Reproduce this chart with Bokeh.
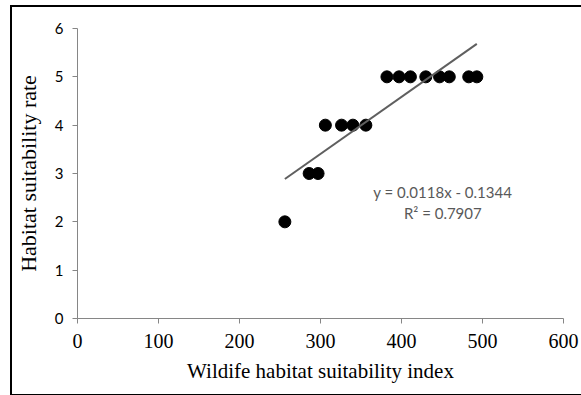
from bokeh.plotting import figure
from bokeh.models import ColumnDataSource, Range1d, FixedTicker, Label
from bokeh.embed import file_html
from bokeh.resources import INLINE

# Data
wildlife_index = [256, 286, 297, 306, 326, 340, 356, 382, 397, 411, 430, 447, 459, 483, 493]
suitability_rate = [2, 3, 3, 4, 4, 4, 4, 5, 5, 5, 5, 5, 5, 5, 5]
slope = 0.0118
intercept = -0.1344
r_squared = 0.7907
x_ticks = [0, 100, 200, 300, 400, 500, 600]
y_ticks = [0, 1, 2, 3, 4, 5, 6]

p = figure(width=569, height=387, output_backend="svg", toolbar_location=None,
           x_range=Range1d(0, 600), y_range=Range1d(0, 6),
           min_border_left=65, min_border_right=18, min_border_top=21, min_border_bottom=76)
p.margin = (7, 0, 0, 12)
p.styles = {"outline": "2px solid #000000", "outline-offset": "0px"}
p.outline_line_color = None
p.xgrid.visible = False
p.ygrid.visible = False
p.background_fill_color = "white"
p.border_fill_color = "white"

src = ColumnDataSource(dict(x=wildlife_index, y=suitability_rate))
p.scatter("x", "y", source=src, size=12, fill_color="black", line_color="black")

x0, x1 = min(wildlife_index), max(wildlife_index)
p.line([x0, x1], [slope * x0 + intercept, slope * x1 + intercept], line_color="#5f5f5f", line_width=2)

axis_col = "#868686"
for ax in (p.xaxis[0], p.yaxis[0]):
    ax.axis_line_color = axis_col
    ax.major_tick_line_color = axis_col
    ax.minor_tick_line_color = None
    ax.major_tick_in = 0
    ax.major_tick_out = 5
    ax.axis_label_text_font = "Liberation Serif"
    ax.axis_label_text_font_style = "normal"
    ax.axis_label_text_color = "#000000"

p.xaxis.axis_label_text_font_size = "21px"
p.yaxis.axis_label_text_font_size = "22px"
p.xaxis.ticker = FixedTicker(ticks=x_ticks)
p.yaxis.ticker = FixedTicker(ticks=y_ticks)
p.xaxis.major_label_text_font = "Liberation Serif"
p.xaxis.major_label_text_font_size = "20px"
p.xaxis.major_label_text_color = "#000000"
p.xaxis.major_label_standoff = 10
p.yaxis.major_label_text_font = "Lato"
p.yaxis.major_label_text_font_size = "15px"
p.yaxis.major_label_text_color = "#000000"
p.yaxis.major_label_standoff = 9
p.xaxis.axis_label = "Wildife habitat suitability index"
p.yaxis.axis_label = "Habitat suitability rate"
p.xaxis.axis_label_standoff = 8
p.yaxis.axis_label_standoff = 11

p.add_layout(Label(x=451, y=2.61, text="y = %.4fx - %.4f" % (slope, -intercept),
                   text_align="center", text_baseline="middle",
                   text_font="Lato", text_font_size="15px", text_color="#595959"))
p.add_layout(Label(x=451, y=2.19, text="R² = %.4f" % r_squared,
                   text_align="center", text_baseline="middle",
                   text_font="Lato", text_font_size="15px", text_color="#595959"))

open("out.html", "w").write(file_html(p, INLINE))
